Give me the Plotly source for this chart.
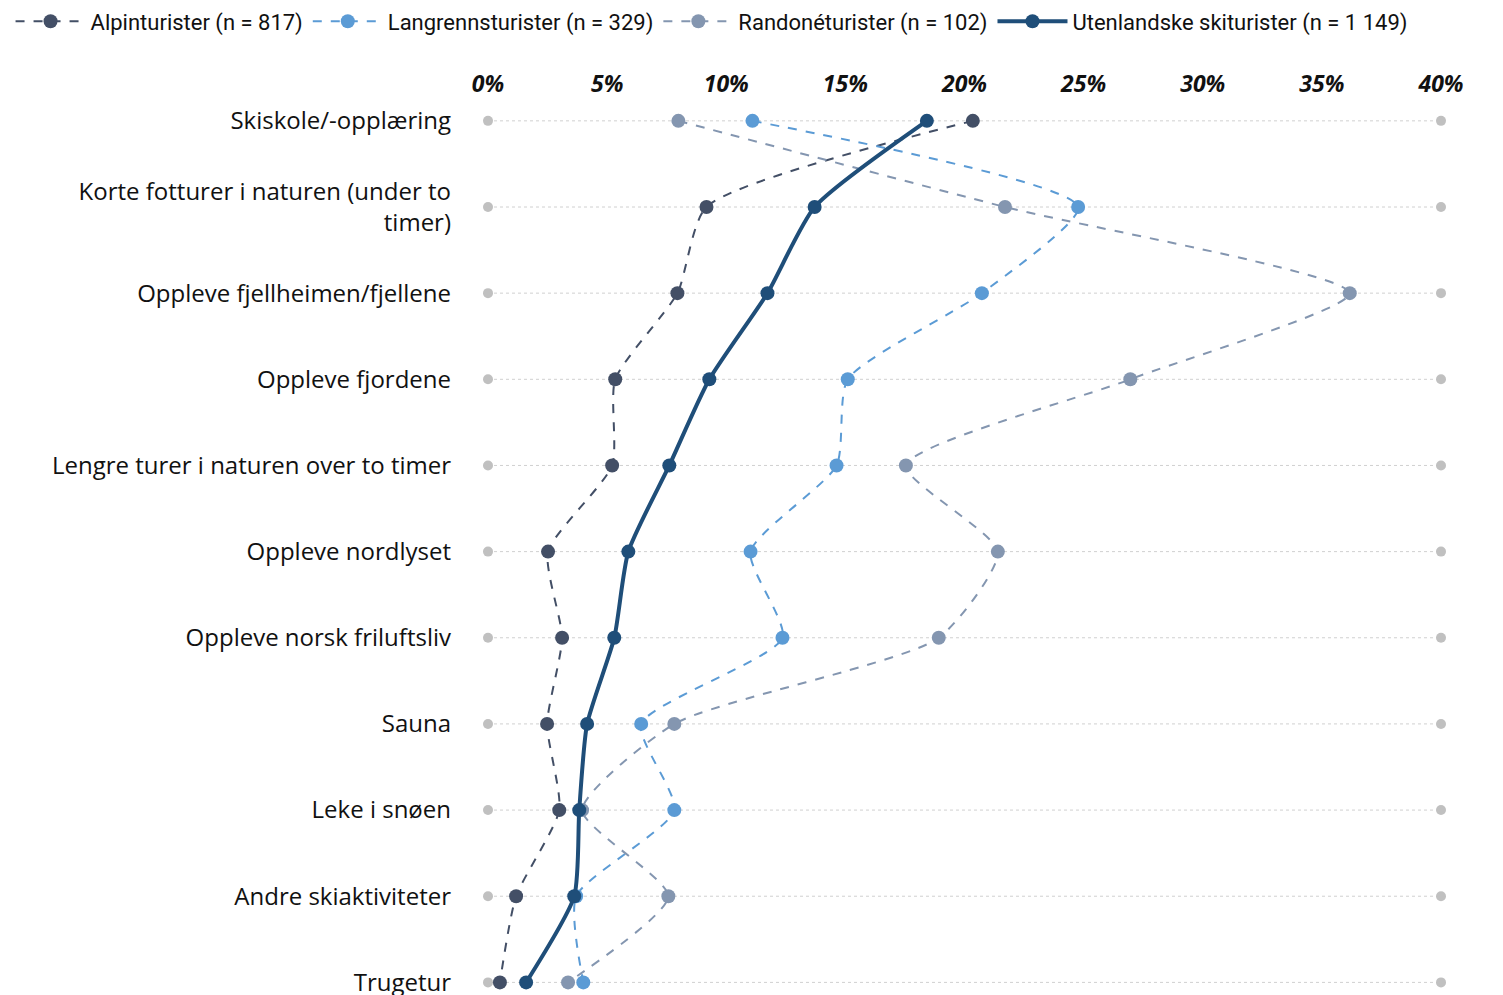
import plotly.graph_objects as go

categories = [
    "Skiskole/-opplæring",
    "Korte fotturer i naturen (under to<br>timer)",
    "Oppleve fjellheimen/fjellene",
    "Oppleve fjordene",
    "Lengre turer i naturen over to timer",
    "Oppleve nordlyset",
    "Oppleve norsk friluftsliv",
    "Sauna",
    "Leke i snøen",
    "Andre skiaktiviteter",
    "Trugetur",
]

alpin = [20.35, 9.17, 7.95, 5.34, 5.21, 2.52, 3.11, 2.48, 2.99, 1.18, 0.50]
langrenn = [11.10, 24.77, 20.73, 15.10, 14.63, 11.02, 12.36, 6.43, 7.82, 3.70, 4.00]
randone = [7.99, 21.70, 36.17, 26.96, 17.54, 21.40, 18.92, 7.82, 3.95, 7.57, 3.36]
utenlandske = [18.42, 13.71, 11.73, 9.29, 7.61, 5.89, 5.30, 4.16, 3.83, 3.62, 1.60]

series_names = [
    "Alpinturister (n = 817)",
    "Langrennsturister (n = 329)",
    "Randonéturister (n = 102)",
    "Utenlandske skiturister (n = 1 149)",
]
x_min, x_max = 0, 40
tick_vals = [0, 5, 10, 15, 20, 25, 30, 35, 40]
tick_text = ["0%", "5%", "10%", "15%", "20%", "25%", "30%", "35%", "40%"]

FONT = "Open Sans"
LEG_FONT = "Roboto"
y_idx = list(range(len(categories)))

fig = go.Figure()

# range guide lines + end dots
gx, gy = [], []
for i in y_idx:
    gx += [x_min, x_max, None]
    gy += [i, i, None]
fig.add_trace(go.Scatter(
    x=gx, y=gy, mode="lines+markers",
    line=dict(color="#d0d0d0", width=1, dash="dot"),
    marker=dict(color="#c0c0c0", size=10),
    showlegend=False, hoverinfo="skip", cliponaxis=False,
))

styles = [
    (alpin, "#434f66", 2, "dash"),
    (langrenn, "#5b9bd5", 2, "dash"),
    (randone, "#8496b0", 2, "dash"),
    (utenlandske, "#1f4e79", 4, "solid"),
]
for (vals, color, w, dash), name in zip(styles, series_names):
    fig.add_trace(go.Scatter(
        x=vals, y=y_idx, mode="lines+markers", name=name,
        line=dict(color=color, width=w, dash=dash, shape="spline", smoothing=0.6),
        marker=dict(color=color, size=14),
        cliponaxis=False,
    ))

fig.update_layout(
    width=1503, height=995,
    margin=dict(l=480, r=70, t=87, b=12, autoexpand=False),
    plot_bgcolor="white", paper_bgcolor="white",
    font=dict(family=FONT, color="#111111"),
    legend=dict(
        orientation="h", x=-0.501, xanchor="left", y=1.1055, yanchor="top",
        font=dict(size=22, family=LEG_FONT, color="#111111"),
        itemwidth=70, tracegroupgap=0,
    ),
    xaxis=dict(
        side="top", range=[x_min, x_max], tickvals=tick_vals, ticktext=tick_text,
        showgrid=False, zeroline=False, showline=False, automargin=False,
        tickfont=dict(size=23, family=FONT, weight="bold", style="italic", color="#111111"),
        ticklabelstandoff=-3, ticklabeloverflow="allow",
    ),
    yaxis=dict(
        range=[10.1, -0.3], tickvals=y_idx, ticktext=categories,
        showgrid=False, zeroline=False, showline=False, automargin=False,
        tickfont=dict(size=24, family=FONT, color="#111111"),
        ticklabelstandoff=36, ticklabeloverflow="allow",
    ),
)

fig.write_html("out.html")
